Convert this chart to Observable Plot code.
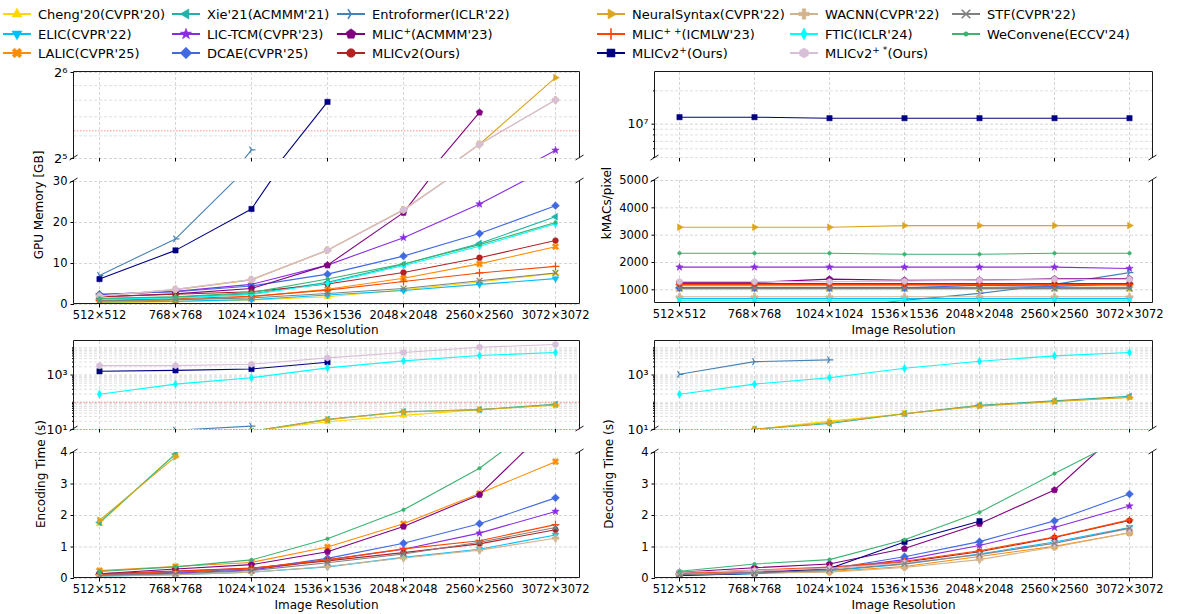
<!DOCTYPE html>
<html><head><meta charset="utf-8">
<script src="https://cdn.jsdelivr.net/npm/d3@7"></script>
<script src="https://cdn.jsdelivr.net/npm/@observablehq/plot@0.6"></script>
<style>
html,body{margin:0;padding:0;background:#fff;}
#root{position:relative;width:1188px;height:614px;overflow:hidden;font-family:"DejaVu Sans",sans-serif;color:#000;}
.abs{position:absolute;}
.legtxt{position:absolute;font-size:13px;white-space:nowrap;line-height:1;transform:translateY(-50%);}
.ylab{position:absolute;font-size:12px;white-space:nowrap;transform:translate(-50%,-50%) rotate(-90deg);}
.xlab{position:absolute;font-size:12px;white-space:nowrap;transform:translate(-50%,-50%);}
sup{font-size:0.7em;vertical-align:0.5em;line-height:0;}
</style></head><body><div id="root"></div>
<script>
// ---------- data ----------
const resolutions = ["512×512","768×768","1024×1024","1536×1536","2048×2048","2560×2560","3072×3072"];
const methods = ["Cheng'20(CVPR'20)","ELIC(CVPR'22)","LALIC(CVPR'25)","Xie'21(ACMMM'21)","LIC-TCM(CVPR'23)","DCAE(CVPR'25)","Entroformer(ICLR'22)","MLIC+(ACMMM'23)","MLICv2(Ours)","NeuralSyntax(CVPR'22)","MLIC++(ICMLW'23)","MLICv2+(Ours)","WACNN(CVPR'22)","FTIC(ICLR'24)","MLICv2+*(Ours)","STF(CVPR'22)","WeConvene(ECCV'24)"];
const legendLabels = ["Cheng'20(CVPR'20)","ELIC(CVPR'22)","LALIC(CVPR'25)","Xie'21(ACMMM'21)","LIC-TCM(CVPR'23)","DCAE(CVPR'25)","Entroformer(ICLR'22)","MLIC<sup>+</sup>(ACMMM'23)","MLICv2(Ours)","NeuralSyntax(CVPR'22)","MLIC<sup>+ +</sup>(ICMLW'23)","MLICv2<sup>+</sup>(Ours)","WACNN(CVPR'22)","FTIC(ICLR'24)","MLICv2<sup>+ *</sup>(Ours)","STF(CVPR'22)","WeConvene(ECCV'24)"];

// GPU memory [GB], one row per method (order of `methods`)
const memoryGB = [
  [0.4,0.7,1.1,1.9,3.6,5.5,7.6],
  [0.6,0.8,1.2,2.3,3.4,4.9,6.3],
  [0.65,1.1,1.9,3.7,6.4,9.9,14.1],
  [1.4,1.8,2.6,5.4,9.8,14.9,21.4],
  [2.4,3.2,4.9,9.6,16.3,24.5,34.2],
  [2.5,3.1,4.5,7.4,11.8,17.3,24.1],
  [7.1,16.0,34.3,null,null,null,null],
  [1.9,2.6,3.9,9.6,22.4,46.4,null],
  [1.9,2.5,3.1,5.0,7.8,11.4,15.6],
  [2.0,3.6,6.0,13.2,23.1,35.9,61.4],
  [1.0,1.4,2.0,3.5,5.6,7.7,9.3],
  [6.2,13.2,23.3,50.5,null,null,null],
  [2.0,3.7,6.1,13.3,23.1,35.9,51.3],
  [1.3,1.6,2.4,5.2,9.5,14.2,19.7],
  [2.05,3.7,6.1,13.2,23.0,35.9,51.3],
  [0.9,1.2,1.6,2.7,3.9,5.8,7.7],
  [1.5,1.9,2.9,6.2,9.9,14.6,20.0]
];
// kMACs/pixel
const kmacsPerPixel = [
  [1010,1010,1010,1010,1010,1010,1010],
  [680,680,680,680,680,680,680],
  [1150,1150,1150,1150,1150,1150,1150],
  [1080,1080,1080,1080,1080,1080,1080],
  [1830,1830,1830,1830,1830,1830,1780],
  [1070,1070,1070,1070,1170,1120,1230],
  [200,250,300,620,870,1200,1630],
  [1270,1270,1390,1350,1360,1400,1400],
  [1230,1230,1230,1230,1230,1230,1230],
  [3290,3290,3290,3350,3350,3350,3350],
  [1190,1190,1190,1190,1190,1190,1190],
  [11570000,11570000,11330000,11330000,11330000,11330000,11330000],
  [745,745,745,745,745,745,745],
  [600,600,600,600,600,600,600],
  [1300,1300,1300,1320,1350,1380,1380],
  [1050,1050,1050,1050,1050,1050,1050],
  [2340,2340,2340,2300,2300,2340,2340]
];
// Encoding time (s)
const encodingTime = [
  [1.74,3.97,8.9,19.2,33,53.5,79.6],
  [0.07,0.12,0.2,0.37,0.67,0.93,1.38],
  [0.25,0.38,0.51,1.0,1.74,2.7,3.71],
  [1.78,3.95,8.6,23.5,45,53.5,84],
  [0.1,0.17,0.27,0.59,0.93,1.44,2.13],
  [0.13,0.2,0.3,0.64,1.12,1.74,2.56],
  [6.5,9.4,13.3,null,null,null,null],
  [0.15,0.3,0.44,0.85,1.65,2.66,5.0],
  [0.15,0.24,0.33,0.56,0.82,1.1,1.55],
  [1.85,3.86,8.5,23,44,53,80],
  [0.12,0.22,0.32,0.59,0.94,1.2,1.71],
  [1368,1480,1660,2950,null,null,null],
  [0.08,0.12,0.2,0.38,0.65,0.9,1.28],
  [198,464,795,1825,3300,5200,6700],
  [2218,2218,2483,4266,6714,10500,13200],
  [0.1,0.15,0.25,0.5,0.78,1.15,1.62],
  [0.22,0.37,0.59,1.26,2.18,3.5,5.3]
];
// Decoding time (s)
const decodingTime = [
  [5.0,10.2,20.3,38,75,106,153],
  [0.1,0.15,0.25,0.45,0.78,1.16,1.62],
  [0.15,0.2,0.22,0.38,0.7,1.02,1.45],
  [5.0,10.2,16.7,38,78,112,167],
  [0.11,0.2,0.3,0.6,1.05,1.62,2.3],
  [0.12,0.17,0.3,0.69,1.17,1.83,2.68],
  [1060,3100,3600,null,null,null,null],
  [0.2,0.34,0.46,0.95,1.74,2.81,4.97],
  [0.17,0.25,0.33,0.52,0.85,1.3,1.84],
  [5.0,10.2,18,38,72,106,150],
  [0.15,0.27,0.36,0.55,0.88,1.32,1.86],
  [0.1,0.16,0.32,1.16,1.82,null,null],
  [0.13,0.17,0.2,0.35,0.6,1.0,1.45],
  [198,464,795,1770,3200,5060,6700],
  [0.2,0.25,0.32,0.5,0.75,1.12,1.58],
  [0.12,0.18,0.27,0.47,0.76,1.12,1.6],
  [0.23,0.46,0.6,1.23,2.1,3.33,4.55]
];

// ---------- styles ----------
const colors = ["#FFD700","#00BFFF","#FF8C00","#20B2AA","#8A2BE2","#4169E1","#4682B4","#800080","#B22222","#DAA520","#FF4500","#000080","#D2B48C","#00FFFF","#D8BFD8","#808080","#3CB371"];
const markers = ["triUp","triDown","xFilled","triLeft","star","diamond","tri4","pentagon","circle","triRight","plus","square","plusFilled","thinDiamond","hexagon","cross","point"];
const strokeOnly = new Set(["plus","cross","tri4"]);

const Rr = s => Math.sqrt(s / Math.PI);
const polygon = pts => ({draw(c, s){ const r = Rr(s); pts.forEach(([x,y],i) => i ? c.lineTo(x*r,y*r) : c.moveTo(x*r,y*r)); c.closePath(); }});
const segs = list => ({draw(c, s){ const r = Rr(s); for (const [a,b,x,y] of list){ c.moveTo(a*r,b*r); c.lineTo(x*r,y*r);} }});
const regular = (n,k,rot) => polygon(d3.range(n).map(i => [k*Math.cos(rot+2*Math.PI*i/n), k*Math.sin(rot+2*Math.PI*i/n)]));
const starPts = d3.range(10).map(i => { const a = -Math.PI/2 + i*Math.PI/5, k = i%2 ? 0.55 : 1.35; return [k*Math.cos(a), k*Math.sin(a)]; });
const pw = 0.4, pl = 1.2;
const plusPts = [[-pw,-pl],[pw,-pl],[pw,-pw],[pl,-pw],[pl,pw],[pw,pw],[pw,pl],[-pw,pl],[-pw,pw],[-pl,pw],[-pl,-pw],[-pw,-pw]];
const rot45 = ([x,y]) => [(x-y)*Math.SQRT1_2, (x+y)*Math.SQRT1_2];
const symbols = {
  triUp: regular(3,1.35,-Math.PI/2),
  triDown: regular(3,1.35,Math.PI/2),
  triLeft: regular(3,1.35,Math.PI),
  triRight: regular(3,1.35,0),
  square: regular(4,1.3,Math.PI/4),
  diamond: regular(4,1.35,0),
  thinDiamond: polygon([[0,-1.4],[0.75,0],[0,1.4],[-0.75,0]]),
  pentagon: regular(5,1.2,-Math.PI/2),
  hexagon: regular(6,1.15,-Math.PI/2),
  star: polygon(starPts),
  circle: {draw(c,s){ const r = Rr(s); c.moveTo(r,0); c.arc(0,0,r,0,2*Math.PI); }},
  point: {draw(c,s){ const r = Rr(s)*0.7; c.moveTo(r,0); c.arc(0,0,r,0,2*Math.PI); }},
  plus: segs([[-1.35,0,1.35,0],[0,-1.35,0,1.35]]),
  cross: segs([[-1,-1,1,1],[-1,1,1,-1]]),
  tri4: segs([[0,0,1.35,0],[0,0,-0.7,-1.15],[0,0,-0.7,1.15]]),
  plusFilled: polygon(plusPts),
  xFilled: polygon(plusPts.map(rot45))
};

// ---------- layout ----------
const root = document.getElementById("root");
const GRID = "#d6d6d6";
const boxes = {
  tlU:{x0:73.5,x1:579.5,y0:71.5,y1:157.5}, tlL:{x0:73.5,x1:579.5,y0:180.5,y1:303.5},
  trU:{x0:654.5,x1:1152.5,y0:71.5,y1:157.5}, trL:{x0:654.5,x1:1152.5,y0:179.5,y1:302.5},
  blU:{x0:73.5,x1:579.5,y0:340.5,y1:428.5}, blL:{x0:73.5,x1:579.5,y0:451.5,y1:577.5},
  brU:{x0:654.5,x1:1152.5,y0:340.5,y1:428.5}, brL:{x0:654.5,x1:1152.5,y0:451.5,y1:577.5}
};

function panel(box, values, cfg){
  const mL = 46, mR = 6, mT = 4, mB = cfg.lower ? 26 : 10;
  const w = box.x1 - box.x0, h = box.y1 - box.y0;
  const marks = [
    Plot.gridX({ticks: resolutions, stroke: GRID, strokeOpacity: 1, strokeDasharray: "3,2"}),
  ];
  if (cfg.minor && cfg.minor.length) marks.push(Plot.gridY({ticks: cfg.minor, stroke: "#e0e0e0", strokeOpacity: 1, strokeDasharray: "3,2"}));
  marks.push(Plot.gridY({ticks: cfg.ticks, stroke: GRID, strokeOpacity: 1, strokeDasharray: "3,2"}));
  if (cfg.reds) marks.push(Plot.ruleY(cfg.reds, {stroke: "#ff6060", strokeOpacity: 0.7, strokeDasharray: "1.5,1.5", strokeWidth: 1}));
  methods.forEach((m, s) => {
    const rows = values[s].map((v, i) => ({res: resolutions[i], v}));
    marks.push(Plot.line(rows, {x: "res", y: "v", stroke: colors[s], strokeWidth: 1.1, clip: true}));
    const pts = rows.filter(d => d.v != null);
    const mk = markers[s];
    const so = strokeOnly.has(mk);
    marks.push(Plot.dot(pts, {x: "res", y: "v", symbol: symbols[mk], r: mk === "point" ? 2.6 : 2.9,
      fill: so ? "none" : colors[s], stroke: colors[s], strokeWidth: so ? 1.2 : 0.5, clip: true}));
  });
  marks.push(Plot.axisX({ticks: resolutions, tickSize: 3.5, tickPadding: 2.5, fontSize: 11.5, label: null,
    tickFormat: cfg.lower ? (d => d) : (() => "")}));
  if (cfg.minor && cfg.minorTicks !== false) marks.push(Plot.axisY({ticks: cfg.minor, tickSize: 2, tickFormat: () => "", label: null}));
  marks.push(Plot.axisY({ticks: cfg.ticks, tickSize: 3.5, tickPadding: 3.5, fontSize: cfg.tickFont || 11.5, label: null, tickFormat: cfg.fmt}));
  const chart = Plot.plot({
    width: w + mL + mR, height: h + mT + mB,
    marginLeft: mL, marginRight: mR, marginTop: mT, marginBottom: mB,
    x: {type: "point", domain: resolutions, padding: 0.3, label: null},
    y: Object.assign({label: null}, cfg.y),
    style: {fontFamily: "DejaVu Sans, sans-serif", fontSize: "11.5px", color: "#000", background: "transparent", overflow: "visible"},
    marks
  });
  const div = document.createElement("div");
  div.className = "abs";
  div.style.left = (box.x0 - mL) + "px";
  div.style.top = (box.y0 - mT) + "px";
  div.appendChild(chart);
  root.appendChild(div);
}

const decades = (lo, hi) => { const out = []; for (let e = lo; e < hi; e++) for (let k = 2; k <= 9; k++) out.push(k * 10 ** e); return out; };
const timeMinor = decades(1, 4).concat([100, 10000]);
const supFmt = {1: "¹", 3: "³", 5: "⁵", 6: "⁶", 7: "⁷"};

panel(boxes.tlU, memoryGB, {y: {type: "log", base: 2, domain: [32, 64]}, ticks: [32, 64], tickFont: 13,
  fmt: d => "2" + supFmt[Math.round(Math.log2(d))], minor: [38.4, 44.8, 51.2, 57.6], minorTicks: false, reds: [40]});
panel(boxes.tlL, memoryGB, {lower: true, y: {domain: [0, 30]}, ticks: [0, 10, 20, 30], fmt: d => String(d)});
panel(boxes.trU, kmacsPerPixel, {y: {type: "log", domain: [4.9e6, 2.93e7]}, ticks: [1e7], tickFont: 12.5,
  fmt: () => "10⁷", minor: [5e6, 6e6, 7e6, 8e6, 9e6, 2e7]});
panel(boxes.trL, kmacsPerPixel, {lower: true, y: {domain: [500, 5000]}, ticks: [1000, 2000, 3000, 4000, 5000], fmt: d => String(d)});
panel(boxes.blU, encodingTime, {y: {type: "log", domain: [10, 17000]}, ticks: [10, 1000], tickFont: 12.5,
  fmt: d => "10" + supFmt[Math.round(Math.log10(d))], minor: timeMinor, reds: [10, 100]});
panel(boxes.blL, encodingTime, {lower: true, y: {domain: [0, 4]}, ticks: [0, 1, 2, 3, 4], fmt: d => String(d)});
panel(boxes.brU, decodingTime, {y: {type: "log", domain: [10, 17000]}, ticks: [10, 1000], tickFont: 12.5,
  fmt: d => "10" + supFmt[Math.round(Math.log10(d))], minor: timeMinor, reds: [10]});
panel(boxes.brL, decodingTime, {lower: true, y: {domain: [0, 4]}, ticks: [0, 1, 2, 3, 4], fmt: d => String(d)});

// ---------- spines & axis-break marks ----------
const ov = d3.create("svg").attr("width", 1188).attr("height", 614)
  .style("position", "absolute").style("left", "0px").style("top", "0px").style("pointer-events", "none");
const ln = (x1, y1, x2, y2) => ov.append("line").attr("x1", x1).attr("y1", y1).attr("x2", x2).attr("y2", y2)
  .attr("stroke", "#1a1a1a").attr("stroke-width", 1);
for (const key of Object.keys(boxes)) {
  const b = boxes[key];
  const upper = key.endsWith("U");
  ln(b.x0, b.y0, b.x0, b.y1); ln(b.x1, b.y0, b.x1, b.y1);
  if (upper) { ln(b.x0, b.y0, b.x1, b.y0); ln(b.x0 - 4, b.y1 + 2.5, b.x0 + 4, b.y1 - 2.5); ln(b.x1 - 4, b.y1 + 2.5, b.x1 + 4, b.y1 - 2.5); }
  else { ln(b.x0, b.y1, b.x1, b.y1); ln(b.x0 - 4, b.y0 + 2.5, b.x0 + 4, b.y0 - 2.5); ln(b.x1 - 4, b.y0 + 2.5, b.x1 + 4, b.y0 - 2.5); }
}
root.appendChild(ov.node());

// ---------- axis labels ----------
function addLabel(cls, text, x, y){ const d = document.createElement("div"); d.className = cls; d.textContent = text; d.style.left = x + "px"; d.style.top = y + "px"; root.appendChild(d); }
addLabel("ylab", "GPU Memory [GB]", 39, 205);
addLabel("ylab", "kMACs/pixel", 607, 203);
addLabel("ylab", "Encoding Time (s)", 41, 474);
addLabel("ylab", "Decoding Time (s)", 609, 474);
addLabel("xlab", "Image Resolution", (boxes.tlL.x0 + boxes.tlL.x1) / 2, 330);
addLabel("xlab", "Image Resolution", (boxes.trL.x0 + boxes.trL.x1) / 2, 330);
addLabel("xlab", "Image Resolution", (boxes.blL.x0 + boxes.blL.x1) / 2, 605);
addLabel("xlab", "Image Resolution", (boxes.brL.x0 + boxes.brL.x1) / 2, 605);

// ---------- legend ----------
const legendX = [38, 207, 372, 632, 825, 987];
const legendY = [14, 33.5, 53];
methods.forEach((m, s) => {
  const col = Math.floor(s / 3), row = s % 3;
  const tx = legendX[col], ty = legendY[row];
  const sw = d3.create("svg").attr("width", 30).attr("height", 18)
    .style("position", "absolute").style("left", (tx - 36) + "px").style("top", (ty - 9) + "px");
  sw.append("line").attr("x1", 1).attr("x2", 29).attr("y1", 9).attr("y2", 9).attr("stroke", colors[s]).attr("stroke-width", 2);
  const mk = markers[s], so = strokeOnly.has(mk);
  const rr = mk === "point" ? 3.2 : 4.3;
  sw.append("path").attr("transform", "translate(15,9)")
    .attr("d", d3.symbol().type(symbols[mk]).size(Math.PI * rr * rr)())
    .attr("fill", so ? "none" : colors[s]).attr("stroke", colors[s]).attr("stroke-width", so ? 1.6 : 0.6);
  root.appendChild(sw.node());
  const t = document.createElement("div");
  t.className = "legtxt";
  t.innerHTML = legendLabels[s];
  t.style.left = tx + "px"; t.style.top = ty + "px";
  root.appendChild(t);
});
</script>
</body></html>
